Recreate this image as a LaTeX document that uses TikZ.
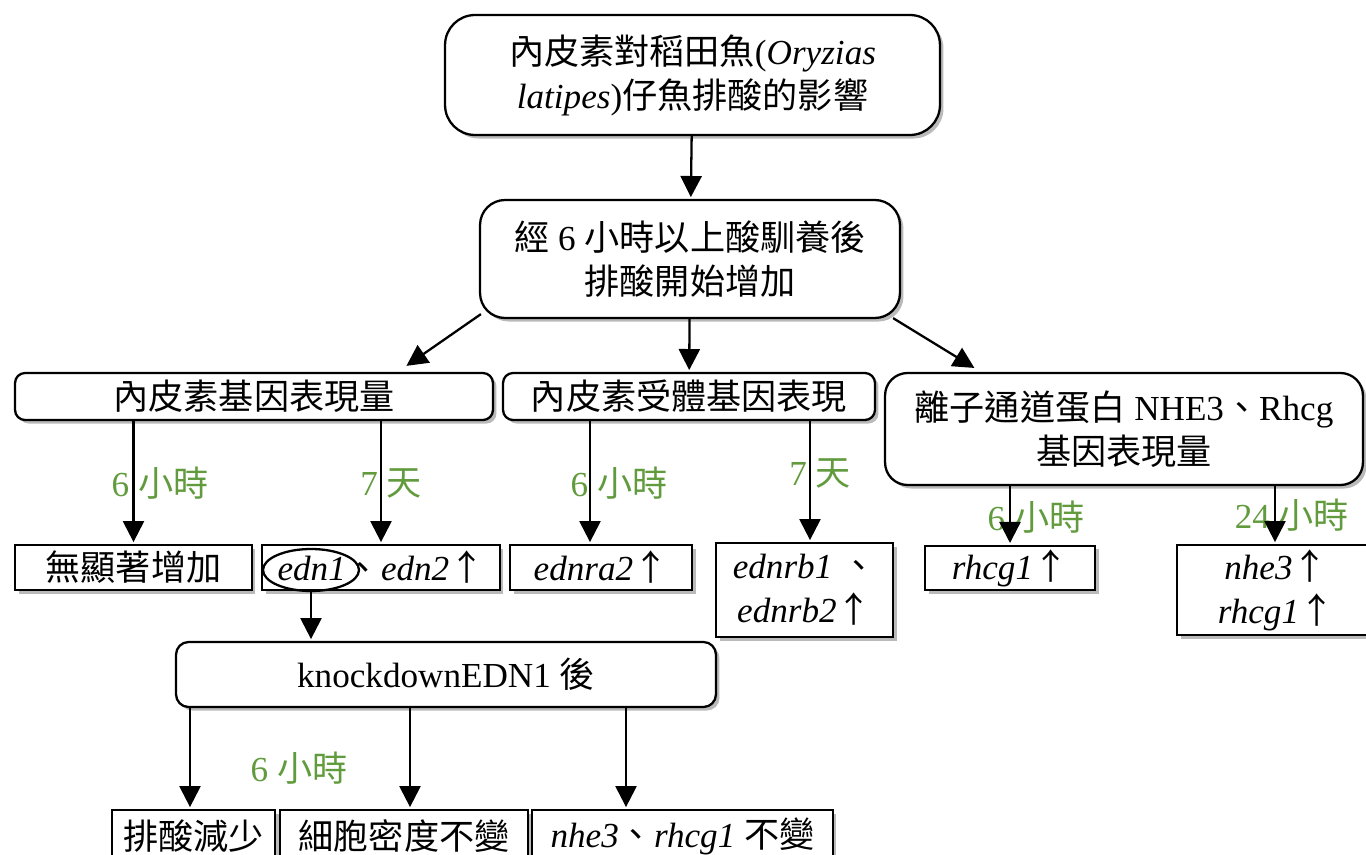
\documentclass[tikz,border=0pt]{standalone}
\usepackage{fontspec}
\setmainfont{Liberation Serif}
\newfontfamily\cjkfont{Noto Sans CJK TC}
\newcommand{\zh}[1]{{\cjkfont #1}}
\newcommand{\up}{\zh{↑}}
\usetikzlibrary{arrows.meta, positioning, calc, shapes.geometric, shadows}
\definecolor{timegreen}{RGB}{98,155,62}

\begin{document}
\begin{tikzpicture}[x=0.02cm, y=-0.02cm,
    every node/.style={font=\fontsize{20}{25}\selectfont},
    boxshadow/.style={drop shadow={shadow xshift=2pt, shadow yshift=-2pt, opacity=0.45, fill=black!60}},
    roundbox/.style={draw, line width=1.3pt, fill=white, align=center, inner sep=2pt, boxshadow},
    sharpbox/.style={draw, line width=1.3pt, fill=white, align=center, inner sep=2pt, boxshadow},
    timelabel/.style={text=timegreen, inner sep=0pt},
    arr/.style={line width=1.3pt, -{Triangle[width=12pt, length=12pt]}, shorten >=1pt}]
    \useasboundingbox (0,0) rectangle (1366,855);

    % top levels
    \node[roundbox, rounded corners=0.6cm, minimum width=9.9cm, minimum height=2.4cm] (title) at (692.5,75)
        {\zh{內皮素對稻田魚}(\textit{Oryzias}\\\textit{latipes})\zh{仔魚排酸的影響}};
    \node[roundbox, rounded corners=0.5cm, minimum width=8.4cm, minimum height=2.36cm] (acid) at (690,259)
        {\zh{經} 6 \zh{小時以上酸馴養後}\\\zh{排酸開始增加}};

    % second level
    \node[roundbox, rounded corners=0.2cm, minimum width=9.56cm, minimum height=0.94cm] (ednexp) at (254,396.5)
        {\zh{內皮素基因表現量}};
    \node[roundbox, rounded corners=0.2cm, minimum width=7.44cm, minimum height=0.94cm] (recexp) at (689,396.5)
        {\zh{內皮素受體基因表現}};
    \node[roundbox, rounded corners=0.45cm, minimum width=9.56cm, minimum height=2.24cm] (ionexp) at (1124,429)
        {\zh{離子通道蛋白} NHE3\zh{、}Rhcg\\\zh{基因表現量}};

    % results
    \node[sharpbox, minimum width=4.74cm, minimum height=0.9cm] (nochange) at (133.5,567.5) {\zh{無顯著增加}};
    \node[sharpbox, minimum width=4.76cm, minimum height=0.9cm] (ednup) at (381,567.5)
        {\textit{edn1}\zh{、}\textit{edn2}\up};
    \node[draw, ellipse, line width=1.3pt, minimum width=1.92cm, minimum height=0.84cm] (ednone) at (311,570) {};
    \node[sharpbox, minimum width=3.64cm, minimum height=0.9cm] (raup) at (601,567.5) {\textit{ednra2}\up};
    \node[sharpbox, minimum width=3.54cm, minimum height=1.88cm] (rbup) at (804.5,590)
        {\textit{ednrb1} \zh{、}\\\textit{ednrb2}\up};
    \node[sharpbox, minimum width=3.4cm, minimum height=0.88cm] (rhsix) at (1010,568) {\textit{rhcg1}\up};
    \node[sharpbox, minimum width=3.96cm, minimum height=1.8cm] (rhday) at (1276,590)
        {\textit{nhe3}\up\\\textit{rhcg1}\up};

    % knockdown
    \node[roundbox, rounded corners=0.25cm, minimum width=10.8cm, minimum height=1.3cm] (knock) at (446,674.5)
        {knockdownEDN1 \zh{後}};
    \node[sharpbox, minimum width=3.26cm, minimum height=1.04cm] (acidlow) at (193.5,836) {\zh{排酸減少}};
    \node[sharpbox, minimum width=4.96cm, minimum height=1.04cm] (cellsame) at (404,836) {\zh{細胞密度不變}};
    \node[sharpbox, minimum width=6.02cm, minimum height=1.04cm] (genesame) at (682.5,836)
        {\textit{nhe3}\zh{、}\textit{rhcg1} \zh{不變}};

    % time labels
    \node[timelabel] (tA) at (160,483) {6 \zh{小時}};
    \node[timelabel] (tB) at (391,483) {7 \zh{天}};
    \node[timelabel] (tC) at (619,483) {6 \zh{小時}};
    \node[timelabel] (tD) at (820,473) {7 \zh{天}};
    \node[timelabel] (tE) at (1036,517) {6 \zh{小時}};
    \node[timelabel] (tF) at (1292,515) {24 \zh{小時}};
    \node[timelabel] (tG) at (299,768) {6 \zh{小時}};

    % connectors
    \draw[arr] (title) -- (acid);
    \draw[arr] ([xshift=0.04cm,yshift=0.1cm]acid.south west) -- ([xshift=3.02cm,yshift=0.1cm]ednexp.north);
    \draw[arr] (acid) -- (recexp);
    \draw[arr] ([xshift=-0.16cm,yshift=0.02cm]acid.south east) -- ([xshift=1.84cm,yshift=0.06cm]ionexp.north west);

    \draw[arr] (nochange.north |- ednexp.south) -- (nochange.north);
    \draw[arr] (ednup.north |- ednexp.south) -- (ednup.north);
    \draw[arr] ([xshift=-0.22cm]raup.north |- recexp.south) -- ([xshift=-0.22cm]raup.north);
    \draw[arr] ([xshift=0.11cm]rbup.north |- recexp.south) -- ([xshift=0.11cm]rbup.north);
    \draw[arr] (rhsix.north |- ionexp.south) -- (rhsix.north);
    \draw[arr] ([xshift=-0.02cm]rhday.north |- ionexp.south) -- ([xshift=-0.02cm]rhday.north);

    \draw[arr] (ednone.south) -- (ednone.south |- knock.north);
    \draw[arr] ([xshift=-0.07cm]acidlow.north |- knock.south) -- ([xshift=-0.07cm]acidlow.north);
    \draw[arr] ([xshift=0.12cm]cellsame.north |- knock.south) -- ([xshift=0.12cm]cellsame.north);
    \draw[arr] ([xshift=-1.13cm]genesame.north |- knock.south) -- ([xshift=-1.13cm]genesame.north);
\end{tikzpicture}
\end{document}
